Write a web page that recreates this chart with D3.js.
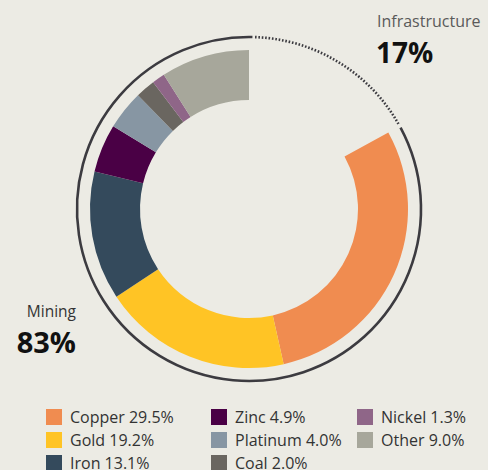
<!DOCTYPE html>
<html><head><meta charset="utf-8">
<script src="https://cdn.jsdelivr.net/npm/d3@7"></script>
<style>
html,body{margin:0;padding:0;background:#ECEBE4;}
svg{display:block;font-family:"Open Sans", Lato, sans-serif;}
</style></head>
<body>
<script>
const categories = ["Copper","Gold","Iron","Zinc","Platinum","Coal","Nickel","Other"];
const values = [29.5,19.2,13.1,4.9,4.0,2.0,1.3,9.0];
const colors = ["#F08C50","#FFC425","#344A5C","#4A0045","#8796A3","#6A6660","#8F6688","#A7A79B"];
const groupLabels = ["Infrastructure","Mining"];
const groupValues = [17,83];

const W=488,H=470, cx=249, cy=209, rOuter=159, rInner=109, rRing=172;
const svg=d3.select("body").append("svg").attr("width",W).attr("height",H);
svg.append("rect").attr("width",W).attr("height",H).attr("fill","#ECEBE4");
const g=svg.append("g").attr("transform",`translate(${cx},${cy})`);

const total=d3.sum(groupValues);
const startAngle = groupValues[0]/total*2*Math.PI;
const pie=d3.pie().sort(null).value(d=>d).startAngle(startAngle).endAngle(2*Math.PI);
const arc=d3.arc().innerRadius(rInner).outerRadius(rOuter);
g.selectAll("path.seg").data(pie(values)).join("path").attr("class","seg")
 .attr("d",arc).attr("fill",(d,i)=>colors[i]);

// outer ring
const arcPath=(a0,a1)=>{
  const p=d3.path(); p.arc(0,0,rRing,a0-Math.PI/2,a1-Math.PI/2,false); return p.toString();
};
g.append("path").attr("d",arcPath(startAngle+0.01,2*Math.PI+0.02)).attr("fill","none")
 .attr("stroke","#3C3B40").attr("stroke-width",2.6);
g.append("path").attr("d",arcPath(0.035,startAngle-0.005)).attr("fill","none")
 .attr("stroke","#3C3B40").attr("stroke-width",2.6).attr("stroke-dasharray","1.6,1.8");

// group labels
svg.append("text").attr("x",377).attr("y",27).attr("font-size",16).attr("fill","#5A5A5A").text(groupLabels[0]);
svg.append("text").attr("x",376).attr("y",63).attr("font-size",28).attr("font-weight",700).attr("fill","#111").text(groupValues[0]+"%");
svg.append("text").attr("x",76).attr("y",317).attr("text-anchor","end").attr("font-size",15.5).attr("fill","#333").text(groupLabels[1]);
svg.append("text").attr("x",76).attr("y",353).attr("text-anchor","end").attr("font-size",29).attr("font-weight",700).attr("fill","#111").text(groupValues[1]+"%");

// legend
const colX=[46,211,357], rowY=[409,432,455];
const leg=svg.append("g");
categories.forEach((c,i)=>{
  const col=Math.floor(i/3), row=i%3;
  const x=colX[col], y=rowY[row];
  leg.append("rect").attr("x",x).attr("y",y).attr("width",16).attr("height",16).attr("fill",colors[i]);
  leg.append("text").attr("x",x+24).attr("y",y+14).attr("font-size",16).attr("fill","#333")
   .text(c+" "+values[i].toFixed(1)+"%");
});
</script>
</body></html>
